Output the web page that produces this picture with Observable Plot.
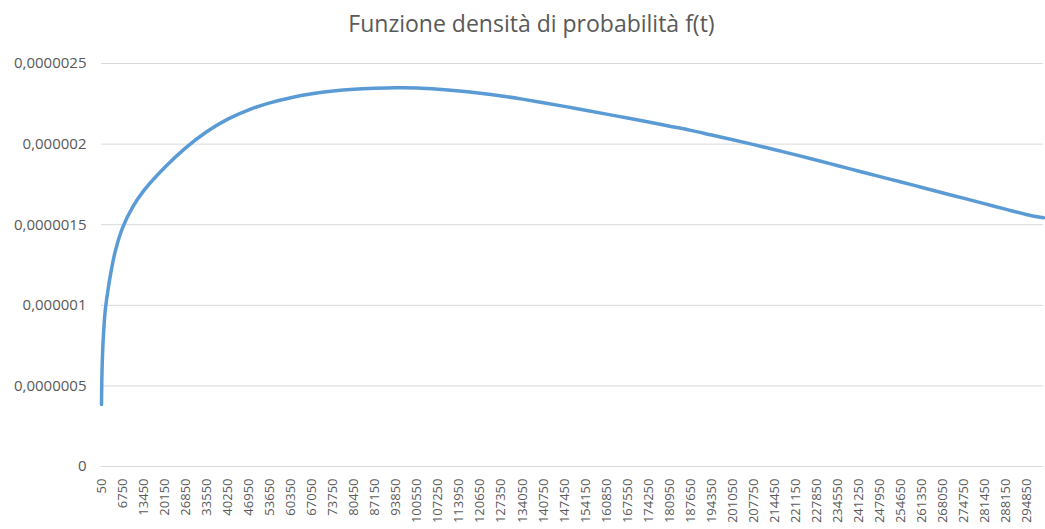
<!DOCTYPE html>
<html>
<head>
<meta charset="utf-8">
<script src="https://cdn.jsdelivr.net/npm/d3@7"></script>
<script src="https://cdn.jsdelivr.net/npm/@observablehq/plot@0.6"></script>
<style>
  body { margin: 0; background: #fff; }
  #chart { position: relative; width: 1045px; height: 529px; }
  #title {
    position: absolute; left: 18px; top: 8px; width: 1027px;
    text-align: center; font: 23px/1.362 "Open Sans", sans-serif; color: #595959;
  }
  #chart svg { display: block; }
</style>
</head>
<body>
<div id="chart"><div id="title">Funzione densità di probabilità f(t)</div></div>
<script>
// time t (category values) and the density f(t) at each
const tValues = [
  50, 150, 300, 600, 1200, 2000, 3000, 4500, 6750, 10000,
  13450, 20150, 26850, 33550, 40250, 46950, 53650, 60350, 67050, 73750,
  80450, 87150, 93850, 100550, 107250, 113950, 120650, 127350, 134050, 140750,
  147450, 154150, 160850, 167550, 174250, 180950, 187650, 194350, 201050, 207750,
  214450, 221150, 227850, 234550, 241250, 247950, 254650, 261350, 268050, 274750,
  281450, 288150, 294850, 300000
];
const fValues = [
  0.385e-6, 0.53e-6, 0.65e-6, 0.79e-6, 0.96e-6, 1.08e-6, 1.2e-6, 1.34e-6, 1.48e-6, 1.61e-6,
  1.71e-6, 1.855e-6, 1.977e-6, 2.077e-6, 2.155e-6, 2.213e-6, 2.256e-6, 2.288e-6, 2.312e-6, 2.329e-6,
  2.34e-6, 2.346e-6, 2.349e-6, 2.348e-6, 2.341e-6, 2.33e-6, 2.316e-6, 2.299e-6, 2.279e-6, 2.257e-6,
  2.234e-6, 2.21e-6, 2.186e-6, 2.162e-6, 2.137e-6, 2.111e-6, 2.085e-6, 2.056e-6, 2.027e-6, 1.997e-6,
  1.965e-6, 1.933e-6, 1.9e-6, 1.866e-6, 1.832e-6, 1.798e-6, 1.765e-6, 1.731e-6, 1.697e-6, 1.663e-6,
  1.629e-6, 1.595e-6, 1.562e-6, 1.543e-6
];

// category labels along the time axis
const xTicks = [
  50, 6750, 13450, 20150, 26850, 33550, 40250, 46950, 53650, 60350,
  67050, 73750, 80450, 87150, 93850, 100550, 107250, 113950, 120650, 127350,
  134050, 140750, 147450, 154150, 160850, 167550, 174250, 180950, 187650, 194350,
  201050, 207750, 214450, 221150, 227850, 234550, 241250, 247950, 254650, 261350,
  268050, 274750, 281450, 288150, 294850
];
const yTicks = [0, 0.0000005, 0.000001, 0.0000015, 0.000002, 0.0000025];

const data = tValues.map((t, i) => ({t, f: fValues[i]}));

// Italian decimal comma, no trailing zeros
const fmtY = d => d === 0 ? "0" : d.toFixed(7).replace(/0+$/, "").replace(".", ",");

const chart = Plot.plot({
  width: 1045,
  height: 529,
  marginLeft: 101,
  marginRight: 2,
  marginTop: 63,
  marginBottom: 63,
  style: {fontFamily: "'Open Sans', sans-serif", color: "#595959", background: "transparent"},
  x: {type: "linear", domain: [50, 300000]},
  y: {domain: [0, 0.0000025]},
  marks: [
    Plot.ruleY(yTicks, {stroke: "#d9d9d9", strokeWidth: 1}),
    Plot.axisY(yTicks, {tickSize: 0, tickPadding: 15, tickFormat: fmtY, fontSize: 15, label: null}),
    Plot.axisX(xTicks, {tickSize: 0, tickPadding: 12, tickRotate: -90, tickFormat: d => String(d), fontSize: 13, label: null}),
    Plot.line(data, {x: "t", y: "f", stroke: "#5b9bd5", strokeWidth: 3.5, curve: "catmull-rom"})
  ]
});
document.getElementById("chart").appendChild(chart);
</script>
</body>
</html>
